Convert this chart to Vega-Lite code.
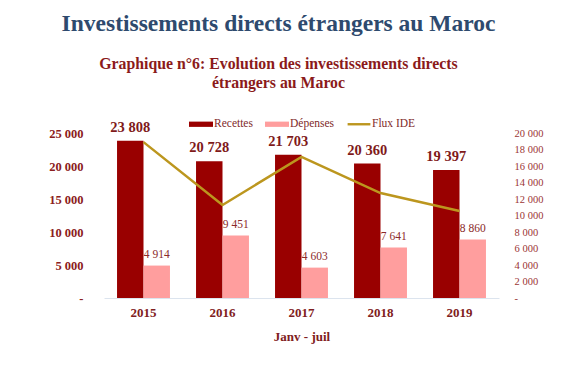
{
  "$schema": "https://vega.github.io/schema/vega-lite/v6.json",
  "width": 395,
  "height": 165,
  "autosize": {"type": "pad"},
  "padding": {"left": 48, "top": 11, "right": 10, "bottom": 5},
  "background": "white",
  "config": {
    "locale": {"number": {"decimal": ",", "thousands": " ", "grouping": [3], "currency": ["", " €"]}},
    "view": {"stroke": null},
    "font": "Liberation Serif"
  },
  "title": {
    "text": "Investissements directs étrangers au Maroc",
    "subtitle": ["Graphique n°6: Evolution des investissements directs", "étrangers au Maroc"],
    "font": "Liberation Serif",
    "fontSize": 23.5,
    "fontWeight": "bold",
    "color": "#2E4A6E",
    "subtitleFont": "Liberation Serif",
    "subtitleFontSize": 15.8,
    "subtitleFontWeight": "bold",
    "subtitleColor": "#8B1A1A",
    "subtitleLineHeight": 19,
    "subtitlePadding": 22,
    "anchor": "middle",
    "dx": -23,
    "offset": 21
  },
  "data": {
    "values": [
      {"year": "2015", "serie": "Recettes", "value": 23808},
      {"year": "2015", "serie": "Dépenses", "value": 4914},
      {"year": "2015", "serie": "Flux IDE", "value": 18894},
      {"year": "2016", "serie": "Recettes", "value": 20728},
      {"year": "2016", "serie": "Dépenses", "value": 9451},
      {"year": "2016", "serie": "Flux IDE", "value": 11277},
      {"year": "2017", "serie": "Recettes", "value": 21703},
      {"year": "2017", "serie": "Dépenses", "value": 4603},
      {"year": "2017", "serie": "Flux IDE", "value": 17100},
      {"year": "2018", "serie": "Recettes", "value": 20360},
      {"year": "2018", "serie": "Dépenses", "value": 7641},
      {"year": "2018", "serie": "Flux IDE", "value": 12719},
      {"year": "2019", "serie": "Recettes", "value": 19397},
      {"year": "2019", "serie": "Dépenses", "value": 8860},
      {"year": "2019", "serie": "Flux IDE", "value": 10537}
    ]
  },
  "encoding": {
    "x": {
      "field": "year",
      "type": "nominal",
      "scale": {"paddingInner": 0.33, "paddingOuter": 0.165},
      "title": "Janv - juil",
      "axis": {
        "labelAngle": 0,
        "labelFont": "Liberation Serif",
        "labelFontSize": 13,
        "labelFontWeight": "bold",
        "labelColor": "#7F2020",
        "labelPadding": 8,
        "ticks": false,
        "domainColor": "#DCE4EE",
        "domainWidth": 1,
        "titleFont": "Liberation Serif",
        "titleFontSize": 13,
        "titleFontWeight": "bold",
        "titleColor": "#7F2020",
        "titlePadding": 11
      }
    }
  },
  "layer": [
    {
      "transform": [{"filter": "datum.serie != 'Flux IDE'"}],
      "encoding": {
        "y": {
          "field": "value",
          "type": "quantitative",
          "scale": {"domain": [0, 25000]},
          "axis": {
            "title": null,
            "values": [0, 5000, 10000, 15000, 20000, 25000],
            "labelExpr": "datum.value == 0 ? '-' : format(datum.value, ',')",
            "grid": false,
            "domain": false,
            "ticks": false,
            "labelPadding": 21,
            "labelFont": "Liberation Serif",
            "labelFontSize": 12.5,
            "labelFontWeight": "bold",
            "labelColor": "#8B2020"
          }
        },
        "xOffset": {"field": "serie", "type": "nominal", "scale": {"domain": ["Recettes", "Dépenses"]}}
      },
      "layer": [
        {
          "mark": {"type": "bar"},
          "encoding": {
            "color": {
              "field": "serie",
              "type": "nominal",
              "scale": {"domain": ["Recettes", "Dépenses", "Flux IDE"], "range": ["#990000", "#FF9E9E", "#BC961E"]},
              "legend": {
                "title": null,
                "orient": "none",
                "legendX": 85,
                "legendY": -21,
                "direction": "horizontal",
                "columns": 3,
                "columnPadding": 12,
                "labelOffset": 1,
                "labelFont": "Liberation Serif",
                "labelFontSize": 11.5,
                "labelColor": "#7F2A2A",
                "symbolSize": 576,
                "symbolType": "M-1,-0.22H1V0.22H-1Z",
                "symbolStrokeWidth": 0,
                "encode": {
                  "symbols": {
                    "update": {
                      "size": {"value": 576},
                      "shape": {"signal": "datum.label == 'Flux IDE' ? 'M-0.95,-0.1H0.95V0.1H-0.95Z' : 'M-1,-0.22H1V0.22H-1Z'"},
                      "fill": {"scale": "color", "field": "value"},
                      "stroke": {"value": "transparent"},
                      "strokeWidth": {"value": 0}
                    }
                  }
                }
              }
            }
          }
        },
        {
          "transform": [{"filter": "datum.serie == 'Recettes'"}],
          "mark": {"type": "text", "baseline": "alphabetic", "dy": -9, "font": "Liberation Serif", "fontSize": 14.5, "fontWeight": "bold", "color": "#7F1A1A"},
          "encoding": {"text": {"field": "value", "type": "quantitative", "format": ","}}
        },
        {
          "transform": [{"filter": "datum.serie == 'Dépenses'"}],
          "mark": {"type": "text", "baseline": "alphabetic", "dy": -8, "font": "Liberation Serif", "fontSize": 11.5, "color": "#8B2A2A"},
          "encoding": {"text": {"field": "value", "type": "quantitative", "format": ","}}
        }
      ]
    },
    {
      "transform": [{"filter": "datum.serie == 'Flux IDE'"}],
      "mark": {"type": "line", "strokeWidth": 2.5},
      "encoding": {
        "y": {
          "field": "value",
          "type": "quantitative",
          "scale": {"domain": [0, 20000]},
          "axis": {
            "orient": "right",
            "title": null,
            "values": [0, 2000, 4000, 6000, 8000, 10000, 12000, 14000, 16000, 18000, 20000],
            "labelExpr": "datum.value == 0 ? '-' : format(datum.value, ',')",
            "grid": false,
            "domain": false,
            "ticks": false,
            "labelPadding": 15,
            "labelFont": "Liberation Serif",
            "labelFontSize": 10.5,
            "labelColor": "#9B3535"
          }
        },
        "color": {"field": "serie", "type": "nominal", "legend": null}
      }
    }
  ],
  "resolve": {"scale": {"y": "independent"}}
}
